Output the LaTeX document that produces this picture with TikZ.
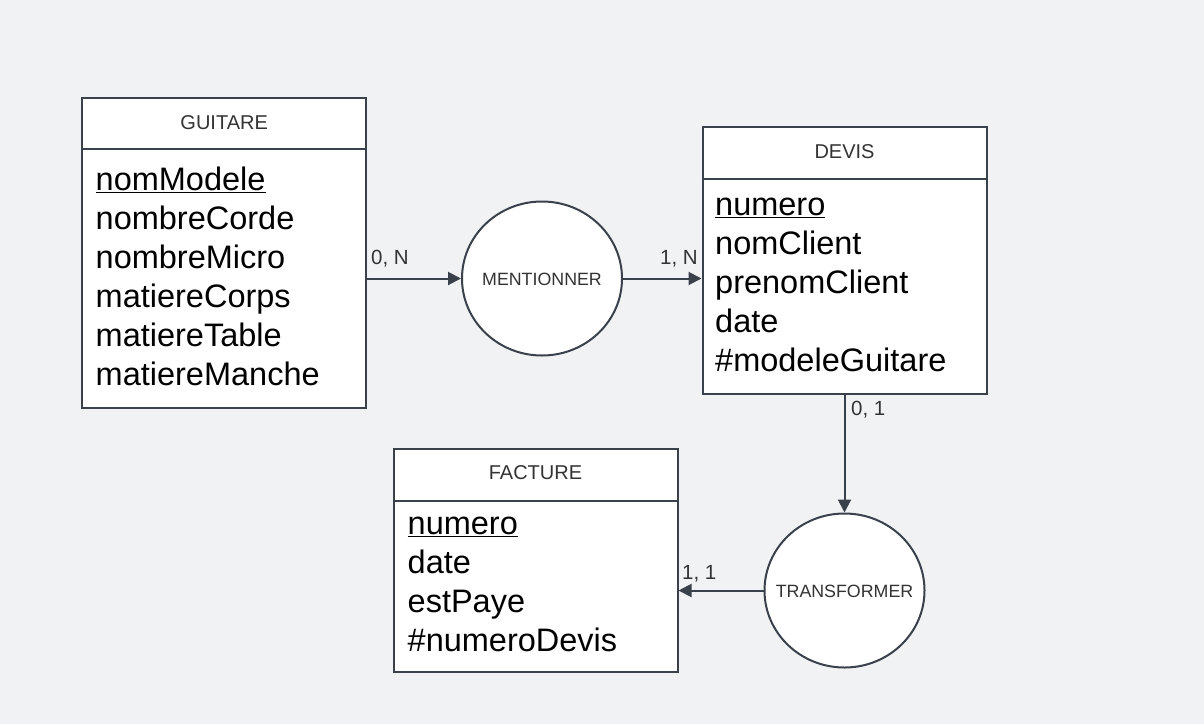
\documentclass[tikz,border=0pt]{standalone}
\usepackage{fontspec}
\setmainfont{Liberation Sans}
\usetikzlibrary{arrows.meta,shapes.geometric}
\definecolor{bgc}{RGB}{241,242,244}
\definecolor{lnc}{RGB}{58,65,74}
\definecolor{ttc}{RGB}{51,51,51}
\newcommand\attrlist[1]{\begin{tabular}[t]{@{}l@{}}#1\end{tabular}}
\begin{document}
\begin{tikzpicture}[x=1pt,y=-1pt,
  entity/.style={draw=lnc, line width=2pt, fill=white, rectangle, inner sep=0pt},
  assoc/.style={draw=lnc, line width=2pt, fill=white, ellipse, inner sep=0pt,
    minimum width=160pt, minimum height=154pt},
  sepline/.style={draw=lnc, line width=2pt},
  title/.style={font=\fontsize{20}{24}\selectfont, text=ttc, anchor=base, inner sep=0pt},
  attr/.style={font=\fontsize{32.5}{39}\selectfont, text=black, anchor=base west, inner sep=0pt},
  assoctext/.style={font=\fontsize{17.8}{21}\selectfont, text=ttc, anchor=base, inner sep=0pt},
  card/.style={font=\fontsize{20.5}{24}\selectfont, text=ttc, inner sep=0pt},
  conn/.style={draw=lnc, line width=2pt, -{Triangle[length=13pt,width=13pt]}}]
\useasboundingbox (0,0) rectangle (1204,724);
\fill[bgc] (0,0) rectangle (1204,724);

% entities
\node[entity, minimum width=284pt, minimum height=310pt] (guitare) at (224.2,252.5) {};
\draw[sepline] (guitare.west |- 0,149.3) -- (guitare.east |- 0,149.3);
\node[title] (guitareT) at (224.2,129.3) {GUITARE};
\node[attr] (guitareA) at (95.5,190.7) {\attrlist{\underline{nomModele}\\nombreCorde\\nombreMicro\\matiereCorps\\matiereTable\\matiereManche}};

\node[entity, minimum width=284pt, minimum height=267pt] (devis) at (844.5,260.8) {};
\draw[sepline] (devis.west |- 0,178.5) -- (devis.east |- 0,178.5);
\node[title] (devisT) at (844.5,158.3) {DEVIS};
\node[attr] (devisA) at (715,215) {\attrlist{\underline{numero}\\nomClient\\prenomClient\\date\\\#modeleGuitare}};

\node[entity, minimum width=284pt, minimum height=223.5pt] (facture) at (535.5,560.7) {};
\draw[sepline] (facture.west |- 0,500.7) -- (facture.east |- 0,500.7);
\node[title] (factureT) at (535.5,479.3) {FACTURE};
\node[attr] (factureA) at (407.5,534) {\attrlist{\underline{numero}\\date\\estPaye\\\#numeroDevis}};

% associations
\node[assoc] (mentionner) at (542,278.5) {};
\node[assoctext] (mentionnerT) at (542,285.3) {MENTIONNER};
\node[assoc] (transformer) at (844.5,590.5) {};
\node[assoctext] (transformerT) at (844.5,597.3) {TRANSFORMER};

% connectors
\draw[conn] (guitare.east |- mentionner.west) -- (mentionner.west);
\draw[conn] (mentionner.east) -- (devis.west |- mentionner.east);
\draw[conn] (devis.south) -- (transformer.north);
\draw[conn] (transformer.west) -- (facture.east |- transformer.west);

% cardinalities
\node[card, anchor=base west] (c1) at (371,264) {0, N};
\node[card, anchor=base east] (c2) at (698,264) {1, N};
\node[card, anchor=base west] (c3) at (851,415.7) {0, 1};
\node[card, anchor=base west] (c4) at (682,579) {1, 1};
\end{tikzpicture}
\end{document}
